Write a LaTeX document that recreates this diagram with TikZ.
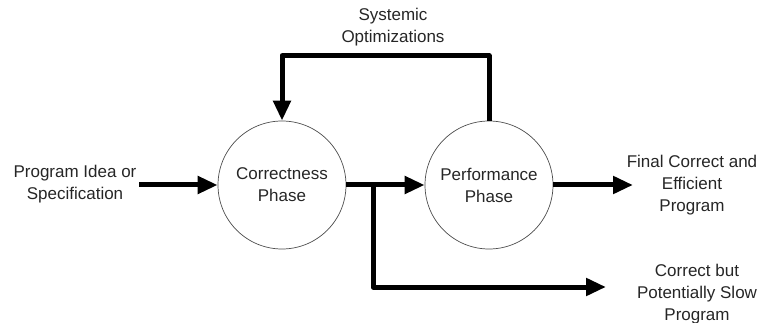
\documentclass[tikz,border=0pt]{standalone}
\usepackage{fontspec}
\setmainfont{Liberation Sans}
\usetikzlibrary{arrows.meta}
\begin{document}
\begin{tikzpicture}[x=1pt,y=-1pt,
  phase/.style={circle,draw=black!70,line width=0.7pt,minimum size=128pt,inner sep=0pt,
    align=center,font=\fontsize{17}{22}\selectfont,text=black!85},
  label/.style={align=center,font=\fontsize{17}{22}\selectfont,text=black!85,inner sep=0pt},
  flow/.style={line width=5pt,line join=round,-{Triangle[length=20pt,width=17pt]}}]
\useasboundingbox (0,0) rectangle (765,323);

% the two phases
\node[phase] (corr) at (282,185) {Correctness\\Phase};
\node[phase] (perf) at (489,185) {Performance\\Phase};

% texts at the ends of the flows
\node[label] (idea) at (75,184) {Program Idea or\\Specification};
\node[label] (sysopt) at (393,27) {Systemic\\Optimizations};
\node[label] (final) at (692,185) {Final Correct and\\Efficient\\Program};
\node[label] (slow) at (697,294) {Correct but\\Potentially Slow\\Program};

% free ends and bends of the flows
\coordinate (inStart) at (139,185);
\coordinate (branch) at (373,185);
\coordinate (slowEnd) at (606,287);
\coordinate (finalEnd) at (633,185);

% main flow
\draw[flow] (inStart) -- (corr.west);
\draw[flow] (corr.east) -- (perf.west);
\draw[flow] (perf.east) -- (finalEnd);

% early exit of a correct program
\draw[flow] (branch) |- (slowEnd);

% feedback loop of systemic optimizations
\draw[flow] (perf.north) -- ++(0,-65) -| (corr.north);
\end{tikzpicture}
\end{document}
